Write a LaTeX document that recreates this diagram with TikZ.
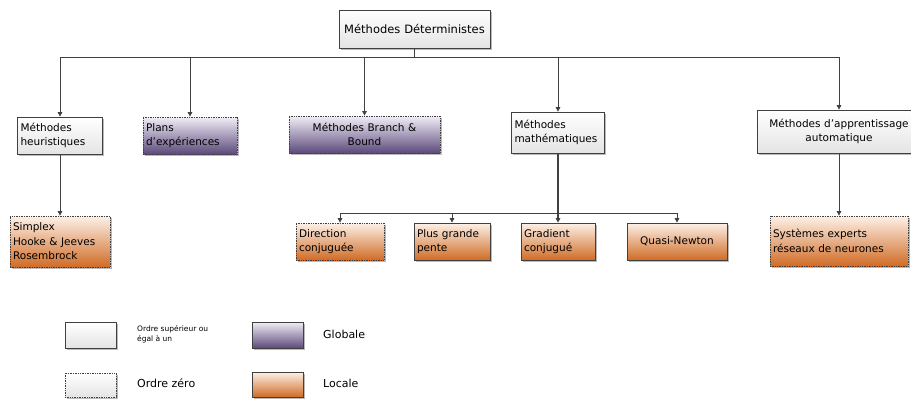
\documentclass[tikz,border=0pt]{standalone}
\usepackage{fontspec}
\setmainfont{DejaVu Sans}
\usetikzlibrary{shadows,arrows.meta,calc}
\definecolor{lineC}{HTML}{404040}
\definecolor{purpleT}{HTML}{F2EEF7}
\definecolor{purpleB}{HTML}{5C4A7B}
\definecolor{orangeT}{HTML}{FDF1E8}
\definecolor{orangeB}{HTML}{D06C26}
\definecolor{greyB}{HTML}{E4E4E4}
\tikzset{
  x=1pt, y=-1pt,
  base/.style={rectangle, inner xsep=3pt, inner ysep=0pt,
    font=\fontsize{10.5}{14.5}\selectfont, draw=lineC, line width=0.7pt,
    drop shadow={shadow xshift=1.6pt, shadow yshift=-1.6pt, fill=black!45, opacity=0.6}},
  solidb/.style={base},
  dotb/.style={base, draw=black!75, densely dotted},
  whitef/.style={top color=white, bottom color=greyB},
  purplef/.style={top color=purpleT, bottom color=purpleB},
  orangef/.style={top color=orangeT, bottom color=orangeB},
  arr/.style={draw=lineC, line width=0.7pt, -{Triangle[length=4.5pt,width=4.5pt]}},
  lbl/.style={anchor=west, inner sep=0pt, font=\fontsize{11}{13}\selectfont},
}
\begin{document}
\begin{tikzpicture}
\useasboundingbox (0,0) rectangle (911,399);
% top
\node[solidb, whitef, text width=145pt, minimum height=38pt, align=center, font=\fontsize{11.5}{14}\selectfont] (top) at (414.5,29) {Méthodes Déterministes};
% level 1
\node[solidb, whitef, text width=79pt, minimum height=37pt, align=left] (heur) at (60,135.5) {Méthodes\\heuristiques};
\node[dotb, purplef, text width=88pt, minimum height=37pt, align=left] (plans) at (190,135.5) {Plans\\d’expériences};
\node[dotb, purplef, text width=145pt, minimum height=37pt, align=center] (bb) at (364.5,134.5) {Méthodes Branch \&\\Bound};
\node[solidb, whitef, text width=87pt, minimum height=41pt, align=left] (math) at (558,132.5) {Méthodes\\mathématiques};
\node[solidb, whitef, text width=158pt, minimum height=43pt, align=center] (app) at (839,131.5) {Méthodes d'apprentissage\\automatique};
% level 2
\node[dotb, orangef, text width=94pt, minimum height=51pt, align=left] (simp) at (60,241.5) {Simplex\\Hooke \& Jeeves\\Rosembrock};
\node[dotb, orangef, text width=82pt, minimum height=37pt, align=left] (dir) at (340,241.5) {Direction\\conjuguée};
\node[solidb, orangef, text width=70pt, minimum height=37pt, align=left] (plus) at (452,241.5) {Plus grande\\pente};
\node[solidb, orangef, text width=68pt, minimum height=37pt, align=left] (grad) at (558,241.5) {Gradient\\conjugué};
\node[solidb, orangef, text width=94pt, minimum height=37pt, align=center] (quasi) at (677,241.5) {Quasi-Newton};
\node[dotb, orangef, text width=132pt, minimum height=50pt, align=left] (sys) at (839,241) {Systèmes experts\\réseaux de neurones};
% connectors
\coordinate (bus) at (0,57);
\coordinate (bus2) at (0,213);
\foreach \c in {heur,plans,bb,math,app}
  \draw[arr] (top.south) -- (top.south |- bus) -| (\c.north);
\draw[arr] (heur.south) -- (simp.north);
\draw[arr] (app.south) -- (sys.north);
\foreach \c in {dir,plus,quasi}
  \draw[arr] (math.south) -- (math.south |- bus2) -| (\c.north);
\draw[arr, line width=1.6pt] (math.south) -- (grad.north);
% legend
\node[solidb, whitef, minimum width=51pt, minimum height=26pt, inner sep=0pt] (l1) at (90.5,335) {};
\node[solidb, purplef, minimum width=51pt, minimum height=26pt, inner sep=0pt] (l2) at (277.5,335) {};
\node[dotb, whitef, minimum width=51pt, minimum height=24pt, inner sep=0pt] (l3) at (90.5,385) {};
\node[solidb, orangef, minimum width=51pt, minimum height=25pt, inner sep=0pt] (l4) at (277.5,384.5) {};
\node[lbl, font=\fontsize{7.5}{10}\selectfont, align=left] (t1) at (137,334) {Ordre supérieur ou\\égal à un};
\node[lbl] (t2) at (323,334) {Globale};
\node[lbl] (t3) at (137,383) {Ordre zéro};
\node[lbl] (t4) at (323,383) {Locale};
\end{tikzpicture}
\end{document}
